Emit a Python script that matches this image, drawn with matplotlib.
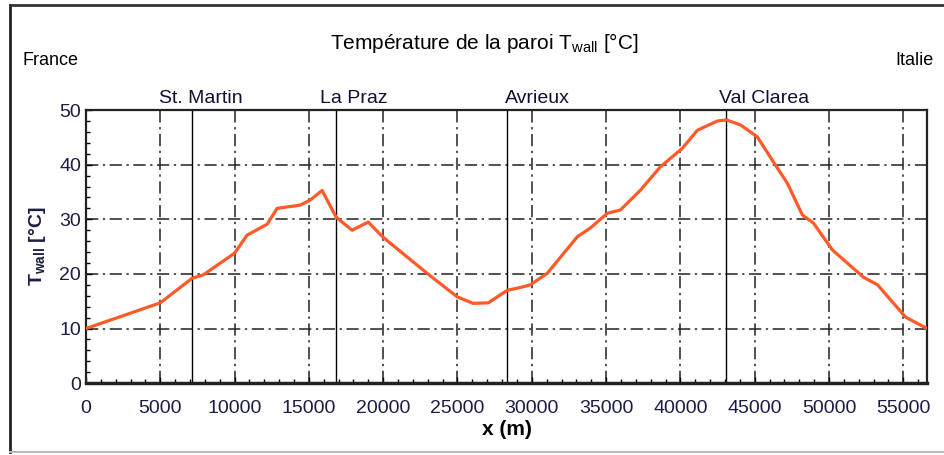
import numpy as np
import matplotlib
matplotlib.use("Agg")
import matplotlib.pyplot as plt
from matplotlib.ticker import MultipleLocator
from matplotlib.lines import Line2D

plt.rcParams['font.family'] = ['Liberation Sans Narrow', 'Liberation Sans', 'DejaVu Sans']

# wall temperature along the tunnel
x_m = [0, 5000, 7140, 7880, 10000, 10840, 12190, 12860, 14410, 15080, 15890,
       16830, 17910, 18990, 20000, 22960, 24980, 26060, 27070, 28350, 29220,
       29900, 31040, 33060, 33940, 35080, 35960, 36630, 37300, 38650, 40130,
       41140, 42490, 43100, 44040, 45180, 46260, 47200, 48210, 48960, 50230,
       50770, 52320, 53270, 55150, 56600]
t_wall = [10.0, 14.7, 19.2, 19.8, 23.8, 27.1, 29.1, 32.0, 32.6, 33.5, 35.3,
          30.4, 28.0, 29.5, 26.7, 20.1, 15.8, 14.6, 14.7, 17.0, 17.5,
          18.0, 20.1, 26.8, 28.4, 31.1, 31.7, 33.5, 35.3, 39.6, 43.0,
          46.3, 48.0, 48.2, 47.3, 45.1, 40.5, 36.6, 30.8, 29.3, 24.4,
          23.1, 19.4, 18.0, 12.1, 10.0]

stations = ['St. Martin', 'La Praz', 'Avrieux', 'Val Clarea']
station_x = [7140, 16830, 28350, 43100]
label_x = [7750, 18050, 30400, 45600]  # where the names sit above the frame

X_MAX = 56600
navy = '#1c1c44'

fig = plt.figure(figsize=(9.45, 4.55), dpi=100)
ax = fig.add_axes([0.091, 0.158, 0.890, 0.600])

# station verticals
for xs in station_x:
    ax.axvline(xs, color='black', lw=1.0, zorder=2)

ax.plot(x_m, t_wall, color='#ff5a28', lw=2.3, zorder=4, solid_capstyle='round',
        solid_joinstyle='round')

ax.set_xlim(0, X_MAX)
ax.set_ylim(0, 50)
ax.xaxis.set_major_locator(MultipleLocator(5000))
ax.xaxis.set_minor_locator(MultipleLocator(1000))
ax.yaxis.set_major_locator(MultipleLocator(10))
ax.yaxis.set_minor_locator(MultipleLocator(2))

ax.grid(True, which='major', color='#222222', lw=1.1, linestyle=(0, (8, 3, 1.5, 3)))
ax.tick_params(which='both', direction='in', labelsize=14, colors='black',
               labelcolor=navy, top=False, right=False)
ax.tick_params(which='major', length=4, width=1)
ax.tick_params(which='minor', length=3, width=1)
ax.tick_params(axis='x', which='major', pad=12)
for s in ax.spines.values():
    s.set_linewidth(1.6)
    s.set_color('#222222')
ax.spines['bottom'].set_linewidth(2.5)

ax.set_xlabel('x (m)', fontsize=15, fontweight='bold', labelpad=2)
ax.set_ylabel(r'T$_{\mathregular{wall}}$ [°C]', fontsize=14, fontweight='bold',
              color=navy, labelpad=8)

for name, lx in zip(stations, label_x):
    ax.text(lx, 50.6, name, fontsize=14, ha='center', va='bottom', color='#111133')

fig.text(0.513, 0.905, r'Température de la paroi T$_{\mathregular{wall}}$ [°C]',
         fontsize=15, ha='center', va='center')
fig.text(0.053, 0.868, 'France', fontsize=13, ha='center', va='center')
fig.text(0.968, 0.868, 'Italie', fontsize=13, ha='center', va='center')

# outer frame of the figure
fig.add_artist(Line2D([0.011, 0.011], [0.007, 0.99], transform=fig.transFigure,
                      color='#222222', lw=2))
fig.add_artist(Line2D([0.011, 1.0], [0.99, 0.99], transform=fig.transFigure,
                      color='#333333', lw=2))
fig.add_artist(Line2D([0.011, 1.0], [0.007, 0.007], transform=fig.transFigure,
                      color='#bbbbbb', lw=1.5))

fig.savefig('out.png', dpi=100)
